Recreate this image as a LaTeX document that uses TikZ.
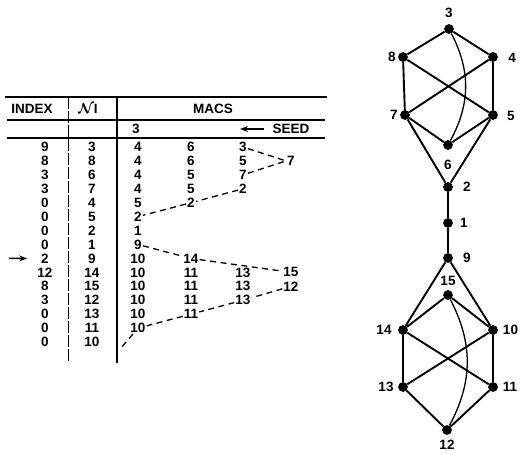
\documentclass[tikz,border=0pt]{standalone}
\usepackage{fontspec}
\setmainfont{Liberation Sans}
\usetikzlibrary{arrows.meta}
\begin{document}
\begin{tikzpicture}[x=1pt,y=-1pt,
  txt/.style={font=\fontsize{13.5}{13.5}\selectfont\bfseries, inner sep=1pt},
  cell/.style={txt},
  rule/.style={line width=1.6pt},
  link/.style={line width=1.3pt, dash pattern=on 6pt off 4.5pt},
  vtx/.style={circle, fill, inner sep=0pt, minimum size=9.8pt},
  edge/.style={line width=1.9pt},
  arc/.style={line width=1.3pt},
  tip/.style={-{Stealth[length=8pt,width=6pt]}, line width=1.5pt}]
\useasboundingbox (0,0) rectangle (520,453);

% ---------- table rules ----------
\draw[rule] (5,97) -- (327,97);
\draw[rule] (7,120) -- (325,120);
\draw[rule] (7,138) -- (325,138);
\draw[line width=0.9pt, dash pattern=on 12pt off 2pt] (68,97) -- (68,362);
\draw[line width=1.6pt] (117,97) -- (117,363);

% ---------- headings ----------
\node[txt] (hidx) at (32,109) {INDEX};
\node[txt] (hni) at (88,109) {{\boldmath$\mathcal{N}$}I};
\node[txt] (hmacs) at (213,109) {MACS};
\node[txt] (hseed3) at (136,129) {3};
\node[txt] (seed) at (291,129) {SEED};
\coordinate (seedtip) at (240,129);
\draw[tip, shorten <=7pt] (seed) -- (seedtip);

% ---------- INDEX and N columns ----------
\foreach \idx/\nv [count=\k from 0] in {9/3,8/8,3/6,3/7,0/4,0/5,0/2,0/1,2/9,12/14,8/15,3/12,0/13,0/11,0/10} {
  \node[cell] (x\k) at (45,{147+13.93*\k}) {\idx};
  \node[cell] (n\k) at (92,{147+13.93*\k}) {\nv};
}

% ---------- MACS columns ----------
\foreach \row [count=\k from 0] in {{4,6,3},{4,6,5,7},{4,5,7},{4,5,2},{5,2},{2},{1},{9},{10,14},{10,11,13,15},{10,11,13,12},{10,11,13},{10,11},{10}} {
  \foreach \v [count=\j] in \row {
    \pgfmathsetmacro\cx{{138,191,243,291}[\j-1]}
    \node[cell] (m\k-\j) at (\cx,{147+13.93*\k}) {\v};
  }
}

% current row marker
\coordinate (mark) at (9,258.4);
\draw[tip, shorten >=13pt] (mark) -- (x8);

% ---------- dashed traces ----------
\draw[link] (m0-3) -- (m1-4.west);
\draw[link] (m2-3) -- (m1-4.west);
\draw[link] (m3-3) -- (m4-2) -- (m5-1);
\draw[link] (m7-1) -- (m8-2) -- (m9-4);
\coordinate (tail) at (121,348);
\draw[link] (m10-4) -- (m11-3) -- (m12-2) -- (m13-1) -- (tail);

% ---------- graph ----------
\node[vtx] (g3) at (449,29) {};
\node[vtx] (g8) at (403,57) {};
\node[vtx] (g4) at (493,57) {};
\node[vtx] (g7) at (405,115) {};
\node[vtx] (g5) at (493,115) {};
\node[vtx] (g6) at (448,145) {};
\node[vtx] (g2) at (448,187) {};
\node[vtx] (g1) at (448,223) {};
\node[vtx] (g9) at (448,258) {};
\node[vtx] (g15) at (448,295) {};
\node[vtx] (g14) at (403,330) {};
\node[vtx] (g10) at (493,330) {};
\node[vtx] (g13) at (403,387) {};
\node[vtx] (g11) at (493,387) {};
\node[vtx] (g12) at (447,430) {};

\node[txt] (l3) at (449,13) {3};
\node[txt] (l8) at (392,57) {8};
\node[txt] (l4) at (512,58) {4};
\node[txt] (l7) at (394,115) {7};
\node[txt] (l5) at (511,116) {5};
\node[txt] (l6) at (448,165) {6};
\node[txt] (l2) at (467,187) {2};
\node[txt] (l1) at (464,223) {1};
\node[txt] (l9) at (467,258) {9};
\node[txt] (l15) at (448,281) {15};
\node[txt] (l14) at (384,330) {14};
\node[txt] (l10) at (510.5,330) {10};
\node[txt] (l13) at (386,387) {13};
\node[txt] (l11) at (510,387) {11};
\node[txt] (l12) at (447,445) {12};

\draw[edge] (g3) -- (g8) (g3) -- (g4) (g8) -- (g7) (g4) -- (g5)
  (g8) -- (g5) (g4) -- (g7) (g7) -- (g6) (g5) -- (g6)
  (g7) -- (g2) (g5) -- (g2) (g2) -- (g1) (g1) -- (g9);
\draw[arc] (g3) to[bend left=28] (g6);
\draw[edge] (g9) -- (g14) (g9) -- (g10) (g15) -- (g14) (g15) -- (g10)
  (g14) -- (g13) (g10) -- (g11) (g14) -- (g11) (g10) -- (g13)
  (g13) -- (g12) (g11) -- (g12);
\draw[arc] (g15) to[bend left=28] (g12);
\end{tikzpicture}
\end{document}
